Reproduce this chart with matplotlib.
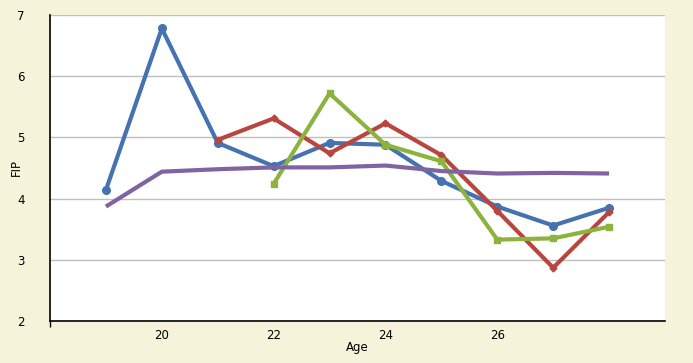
import matplotlib
matplotlib.use("Agg")
import matplotlib.pyplot as plt

ages = [19, 20, 21, 22, 23, 24, 25, 26, 27, 28]
blue_ages = [19, 20, 21, 22, 23, 24, 25, 26, 27, 28]
blue_vals = [4.14, 6.78, 4.91, 4.53, 4.91, 4.88, 4.29, 3.87, 3.56, 3.85]
red_ages = [21, 22, 23, 24, 25, 26, 27, 28]
red_vals = [4.96, 5.31, 4.74, 5.23, 4.71, 3.80, 2.87, 3.78]
green_ages = [22, 23, 24, 25, 26, 27, 28]
green_vals = [4.24, 5.72, 4.88, 4.61, 3.33, 3.35, 3.54]
purple_ages = [19, 20, 21, 22, 23, 24, 25, 26, 27, 28]
purple_vals = [3.87, 4.44, 4.48, 4.51, 4.51, 4.54, 4.45, 4.41, 4.42, 4.41]

xticks = [20, 22, 24, 26, 28]
xticklabels = ["20", "22", "24", "26", ""]
yticks = [2, 3, 4, 5, 6, 7]

bg = "#F5F3DA"
fig = plt.figure(figsize=(6.93, 3.63), dpi=100, facecolor=bg)
ax = fig.add_axes([50/693, 1-321/363, 615/693, 306/363])
ax.set_facecolor("white")

ax.plot(blue_ages, blue_vals, color="#4572B0", lw=3.0, marker="o", ms=5.5, zorder=3)
ax.plot(red_ages, red_vals, color="#B8463F", lw=3.0, marker="D", ms=3.5, zorder=4)
ax.plot(green_ages, green_vals, color="#8DB33F", lw=3.0, marker="s", ms=5, zorder=5)
ax.plot(purple_ages, purple_vals, color="#8064A2", lw=3.0, solid_capstyle="butt", zorder=6)

ax.set_xlim(18, 29)
ax.set_ylim(2, 7)
ax.set_xticks(xticks)
ax.set_xticklabels(xticklabels)
ax.set_yticks(yticks)
ax.set_xticks([18, 28], minor=True)
ax.set_yticks([2], minor=True)
ax.tick_params(axis="both", which="major", length=0, labelsize=8.5, pad=6)
ax.tick_params(axis="x", which="minor", length=4, width=1, color="black", direction="out")
ax.tick_params(axis="y", which="minor", length=3, width=1, color="black", direction="out")
ax.tick_params(axis="y", which="major", pad=18)

ax.grid(axis="y", color="#BFBFBF", lw=1)
ax.set_axisbelow(True)
for s in ["top", "right"]:
    ax.spines[s].set_visible(False)
ax.spines["left"].set_color("black")
ax.spines["bottom"].set_color("black")
ax.spines["left"].set_linewidth(1.2)
ax.spines["bottom"].set_linewidth(1.2)

fig.text(357/693, 1-347/363, "Age", ha="center", va="center", fontsize=8.5)
fig.text(16/693, 1-168/363, "FIP", ha="center", va="center", rotation=90, fontsize=8.5)

fig.savefig("out.png", dpi=100, facecolor=bg)
